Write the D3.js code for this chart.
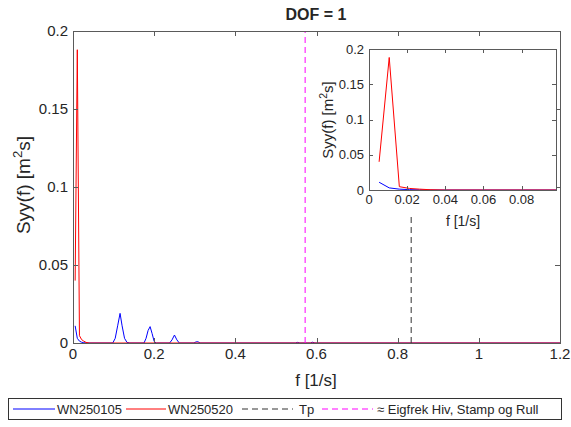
<!DOCTYPE html>
<html><head><meta charset="utf-8">
<script src="https://cdn.jsdelivr.net/npm/d3@7"></script>
<style>
html,body{margin:0;padding:0;background:#fff;}
text{font-family:"Liberation Sans",Arial,Helvetica,sans-serif;fill:#262626;}
</style></head>
<body><svg id="c" width="571" height="427"></svg>
<script>
// ---------- data ----------
const titleText = "DOF = 1";
const seriesNames = ["WN250105", "WN250520", "Tp", "\u2248 Eigfrek Hiv, Stamp og Rull"];
const blueF = [0.0053,0.0106,0.0159,0.0212,0.0265,0.032,0.098,0.104,0.110,0.116,0.121,0.127,0.133,0.140,0.175,0.180,0.185,0.190,0.195,0.200,0.205,0.238,0.244,0.250,0.256,0.262,0.298,0.303,0.308,0.313,0.548,0.553,0.559,0.585,0.590,0.596,1.2];
const blueS = [0.011,0.003,0.0012,0.0005,0.0002,0,0,0.003,0.011,0.019,0.011,0.003,0.0004,0,0,0.003,0.008,0.0105,0.006,0.001,0,0,0.002,0.0051,0.002,0,0,0.0007,0.0008,0,0,0.0004,0,0,0.0005,0,0];
const redF = [0.0053,0.0106,0.0159,0.0212,0.0265,0.032,0.040,1.2];
const redS = [0.04,0.188,0.0047,0.0022,0.0012,0.0004,0,0];
const tpF = 0.8333;
const eigF = 0.572;
const xTicksMain = [0,0.2,0.4,0.6,0.8,1,1.2];
const yTicksMain = [0,0.05,0.1,0.15,0.2];
const xTicksInset = [0,0.02,0.04,0.06,0.08];
const yTicksInset = [0,0.05,0.1,0.15,0.2];

const svg = d3.select("#c");
const blue = d3.zip(blueF, blueS), red = d3.zip(redF, redS);

// ---------- main axes ----------
const x = d3.scaleLinear().domain([0,1.2]).range([73,560]);
const y = d3.scaleLinear().domain([0,0.2]).range([343,31]);
const fmt = d => d3.format("~g")(d);

svg.append("rect").attr("x",73).attr("y",31).attr("width",487).attr("height",312).attr("fill","#fff");
const line = (sx, sy) => d3.line().x(d=>sx(d[0])).y(d=>sy(d[1]));

svg.append("path").datum(blue).attr("d", line(x,y)).attr("fill","none").attr("stroke","#0000ff").attr("stroke-width",1);
svg.append("path").datum(red).attr("d", line(x,y)).attr("fill","none").attr("stroke","#ff0000").attr("stroke-width",1);
// Tp and eigenfrequency lines
svg.append("line").attr("x1",x(tpF)).attr("x2",x(tpF)).attr("y1",y(0)).attr("y2",y(0.2))
  .attr("stroke","#333").attr("stroke-width",1).attr("stroke-dasharray","6,4");
svg.append("line").attr("x1",x(eigF)).attr("x2",x(eigF)).attr("y1",y(0)).attr("y2",y(0.2))
  .attr("stroke","#ff00ff").attr("stroke-width",1).attr("stroke-dasharray","6,4");

// axes frame & ticks
function frame(g, sx, sy, xt, yt, fs, tl){
  const [x0,x1] = sx.range(), [y0,y1] = sy.range();
  const ax = g.append("g");
  const col = "#5a5a5a";
  ax.append("rect").attr("x",x0+0.5).attr("y",y1+0.5).attr("width",x1-x0).attr("height",y0-y1)
    .attr("fill","none").attr("stroke",col).attr("stroke-width",1);
  xt.forEach(t=>{
    const px = Math.round(sx(t))+0.5;
    ax.append("line").attr("x1",px).attr("x2",px).attr("y1",y0).attr("y2",y0-tl).attr("stroke",col);
    ax.append("line").attr("x1",px).attr("x2",px).attr("y1",y1).attr("y2",y1+tl).attr("stroke",col);
    ax.append("text").attr("x",sx(t)).attr("y",y0+fs+1).attr("text-anchor","middle").attr("font-size",fs).text(fmt(t));
  });
  yt.forEach(t=>{
    const py = Math.round(sy(t))+0.5;
    ax.append("line").attr("x1",x0).attr("x2",x0+tl).attr("y1",py).attr("y2",py).attr("stroke",col);
    ax.append("line").attr("x1",x1).attr("x2",x1-tl).attr("y1",py).attr("y2",py).attr("stroke",col);
    ax.append("text").attr("x",x0-5).attr("y",sy(t)+fs*0.35).attr("text-anchor","end").attr("font-size",fs).text(fmt(t));
  });
  return ax;
}

// inset mask (inset region drawn over main plot)
svg.append("rect").attr("x",318).attr("y",32).attr("width",238).attr("height",181).attr("fill","#fff");

frame(svg, x, y, xTicksMain, yTicksMain, 15, 5);

// main labels
svg.append("text").attr("x",316).attr("y",20).attr("text-anchor","middle").attr("font-size",16).attr("font-weight","bold").attr("fill","#000").text(titleText);
svg.append("text").attr("x",316).attr("y",386).attr("text-anchor","middle").attr("font-size",17).text("f [1/s]");
function ylab(g, cx, cy, fs){
  const t = g.append("text").attr("transform",`translate(${cx},${cy}) rotate(-90)`).attr("text-anchor","middle").attr("font-size",fs);
  t.append("tspan").text("Syy(f)  [m");
  t.append("tspan").attr("font-size",fs*0.7).attr("dy",-fs*0.4).text("2");
  t.append("tspan").attr("dy",fs*0.4).text("s]");
}
ylab(svg, 30, 185, 19);

// ---------- inset ----------
const xi = d3.scaleLinear().domain([0,0.098]).range([369,556]);
const yi = d3.scaleLinear().domain([0,0.2]).range([190,49]);
svg.append("rect").attr("x",369).attr("y",49).attr("width",187).attr("height",141).attr("fill","#fff");
svg.append("clipPath").attr("id","ic").append("rect").attr("x",369).attr("y",49).attr("width",187).attr("height",141);
const ig = svg.append("g").attr("clip-path","url(#ic)");
ig.append("path").datum(blue).attr("d", line(xi,yi)).attr("fill","none").attr("stroke","#0000ff").attr("stroke-width",1);
ig.append("path").datum(red).attr("d", line(xi,yi)).attr("fill","none").attr("stroke","#ff0000").attr("stroke-width",1);
frame(svg, xi, yi, xTicksInset, yTicksInset, 13, 4);
svg.append("text").attr("x",463).attr("y",226).attr("text-anchor","middle").attr("font-size",14).text("f [1/s]");
ylab(svg, 333, 120, 15);

// ---------- legend ----------
const lg = svg.append("g");
lg.append("rect").attr("x",8.5).attr("y",398.5).attr("width",553).attr("height",21).attr("fill","#fff").attr("stroke","#333");
const ly = 409;
const items = [
  {x1:13,x2:55,color:"#0000ff",dash:null,tx:57},
  {x1:126,x2:166,color:"#ff0000",dash:null,tx:168},
  {x1:242,x2:293,color:"#333",dash:"6,4",tx:299},
  {x1:322,x2:373,color:"#ff00ff",dash:"6,4",tx:377}
];
items.forEach((it,i)=>{
  const l = lg.append("line").attr("x1",it.x1).attr("x2",it.x2).attr("y1",ly).attr("y2",ly).attr("stroke",it.color);
  if(it.dash) l.attr("stroke-dasharray",it.dash);
  lg.append("text").attr("x",it.tx).attr("y",ly+5).attr("font-size",13).attr("fill","#000").text(seriesNames[i]);
});
</script></body></html>
